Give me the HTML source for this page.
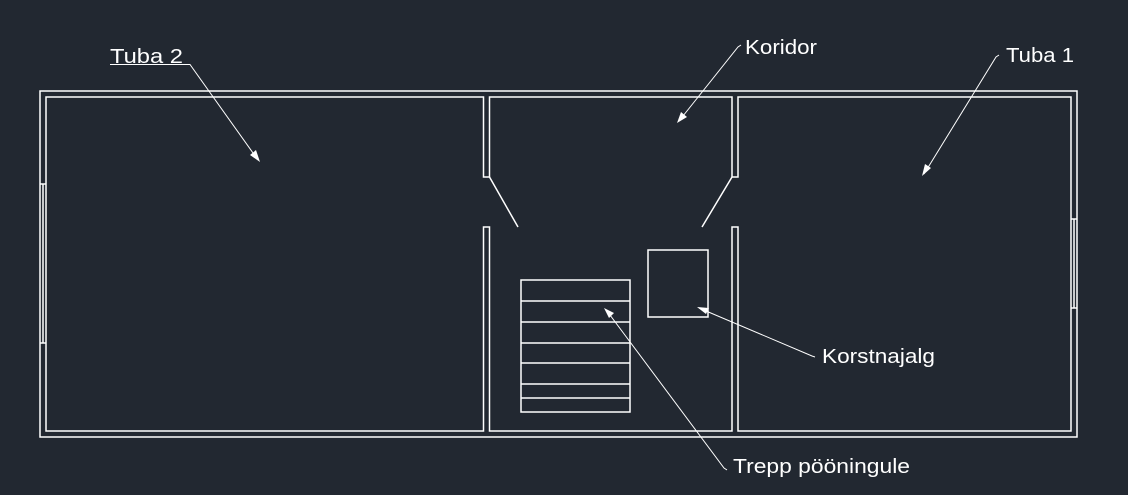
<!DOCTYPE html>
<html><head><meta charset="utf-8"><style>
html,body{margin:0;padding:0;background:#222831;}
svg{display:block}
text{font-family:"Liberation Sans",sans-serif;fill:#fff;font-size:20px;}
</style></head><body>
<svg width="1128" height="495" viewBox="0 0 1128 495" xmlns="http://www.w3.org/2000/svg">
<rect width="1128" height="495" fill="#222831"/>
<g fill="none" stroke="#fff" stroke-width="1.5">
<rect x="40" y="91" width="1037" height="346"/>
<path d="M46 97H483.5V177H489.5V97H732V177H738V97H1071V431H738V227H732V431H489.5V227H483.5V431H46Z"/>
<path d="M40 184H46M40 343H46M43 184V343"/>
<path d="M1071 219H1077M1071 308H1077M1074 219V308"/>
<path d="M489.5 177L518 227M732 177L702 227"/>
<rect x="521" y="280" width="109" height="132"/>
<path d="M521 301H630M521 322H630M521 343H630M521 363H630M521 384H630M521 398H630"/>
<rect x="648" y="250" width="60" height="67"/>
</g>
<g stroke="#fff" stroke-width="1" fill="none">
<path d="M110 64.5H190L258 160"/>
<path d="M741 45L738 47L679 121"/>
<path d="M999 55L996 57L924 174"/>
<path d="M815 357L812 356L699 308"/>
<path d="M727 470L724 468L607 311"/>
</g>
<g fill="#fff">
<polygon points="260,162 250,155 256,150"/>
<polygon points="677,123 681,112 687,117"/>
<polygon points="922,176 925,164 931,168"/>
<polygon points="697,307 709,308 706,314"/>
<polygon points="604,308 614,313 609,318"/>
</g>
<text x="110" y="63" textLength="73" lengthAdjust="spacingAndGlyphs">Tuba 2</text>
<text x="745" y="54" textLength="72" lengthAdjust="spacingAndGlyphs">Koridor</text>
<text x="1006" y="62" textLength="68" lengthAdjust="spacingAndGlyphs">Tuba 1</text>
<text x="822" y="363" textLength="113" lengthAdjust="spacingAndGlyphs">Korstnajalg</text>
<text x="733" y="473" textLength="177" lengthAdjust="spacingAndGlyphs">Trepp pööningule</text>
</svg>
</body></html>
